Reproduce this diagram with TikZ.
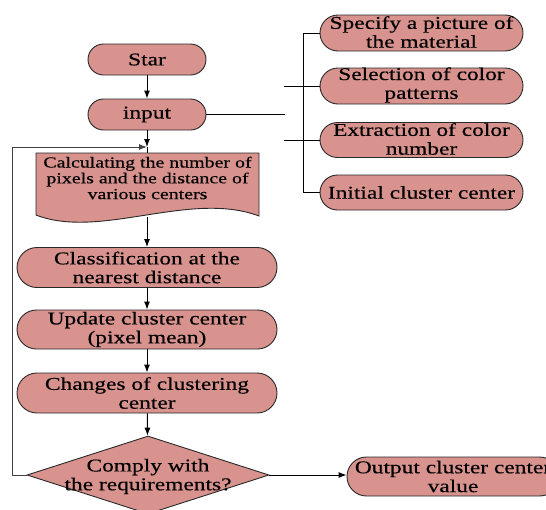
\documentclass[tikz,border=0pt]{standalone}
\usepackage{fontspec}
\setmainfont[FakeStretch=1.3,FakeBold=0.4]{Liberation Serif}
\usetikzlibrary{shapes.misc,shapes.geometric,arrows.meta}
\definecolor{boxfill}{RGB}{217,147,143}
\definecolor{edgec}{RGB}{40,40,40}
\begin{document}
\begin{tikzpicture}[x=1pt,y=-1pt,
  pill/.style={rounded rectangle, draw=edgec, line width=0.9pt, fill=boxfill, inner sep=0pt},
  dia/.style={diamond, draw=edgec, line width=0.9pt, fill=boxfill, inner sep=0pt},
  txt/.style={align=center, inner sep=0pt, font=\fontsize{18}{18.8}\selectfont},
  smalltxt/.style={align=center, inner sep=0pt, font=\fontsize{15.3}{15.8}\selectfont},
  arr/.style={-{Latex[length=8pt,width=6pt]}, line width=1pt, black},
  conn/.style={line width=1pt, black}]
\useasboundingbox (0,0) rectangle (546,509);
\clip (0,0) rectangle (546,509);

% main column
\node[pill, minimum width=118pt, minimum height=31pt] (star) at (147,59.5) {};
\node[txt] (star-t) at (star) {Star};
\node[pill, minimum width=118pt, minimum height=31pt] (input) at (147,114.5) {};
\node[txt] (input-t) at (input) {input};

\draw[edgec, line width=0.9pt, fill=boxfill] (36,153) -- (259,153) -- (259,216)
  .. controls (190,190) and (100,240) .. (36,215) -- cycle;
\node[smalltxt] (doc) at (147.5,178) {Calculating the number of\\pixels and the distance of\\various centers};
\coordinate (doctop) at (147,153);
\coordinate (docb) at (147,217);
\coordinate (jn) at (147,147);

\node[pill, minimum width=260pt, minimum height=40pt] (cls) at (147,267.5) {};
\node[txt] (cls-t) at (cls) {Classification at the\\nearest distance};
\node[pill, minimum width=260pt, minimum height=39pt] (upd) at (147,329.5) {};
\node[txt] (upd-t) at (upd) {Update cluster center\\(pixel mean)};
\node[pill, minimum width=260pt, minimum height=40pt] (chg) at (147,393) {};
\node[txt] (chg-t) at (chg) {Changes of clustering\\center};
\node[dia, minimum width=242pt, minimum height=78pt] (dec) at (148,475) {};
\node[txt] (dec-t) at (148,476.5) {Comply with\\the requirements?};
\node[pill, minimum width=212pt, minimum height=39pt] (out) at (453,476.5) {};
\node[txt] (out-t) at (out) {Output cluster center\\value};

% right column
\node[pill, minimum width=203pt, minimum height=36pt] (spec) at (421.5,33) {};
\node[txt] (spec-t) at (421.5,32) {Specify a picture of\\the material};
\node[pill, minimum width=203pt, minimum height=36pt] (sel) at (421.5,86) {};
\node[txt] (sel-t) at (421.5,85) {Selection of color\\patterns};
\node[pill, minimum width=203pt, minimum height=35pt] (ext) at (421.5,140) {};
\node[txt] (ext-t) at (421.5,139) {Extraction of color\\number};
\node[pill, minimum width=203pt, minimum height=35pt] (init) at (421.5,192.5) {};
\node[txt] (init-t) at (init) {Initial cluster center};

% connectors
\draw[arr] (star) -- (input);
\draw[arr] (input) -- (jn);
\draw[conn] (jn) -- (doctop);
\coordinate (lp) at (12,475);
\draw[arr, draw=black!75] (dec.west) -- (lp) |- (jn);
\draw[arr] (docb) -- (cls);
\draw[arr] (cls) -- (upd);
\draw[arr] (upd) -- (chg);
\draw[arr] (chg) -- (dec);
\draw[arr] (dec.east) -- (dec.east -| out.west);

\coordinate (hi) at (285,114.5);
\coordinate (br1) at (303,33);
\coordinate (br2) at (303,192.5);
\coordinate (hs) at (284,86);
\coordinate (he) at (284,140);
\draw[conn] (input.east) -- (hi);
\draw[conn] (spec.west) -- (br1) -- (br2) -- (init.west);
\draw[conn] (hs) -- (sel.west);
\draw[conn] (he) -- (ext.west);
\end{tikzpicture}
\end{document}
